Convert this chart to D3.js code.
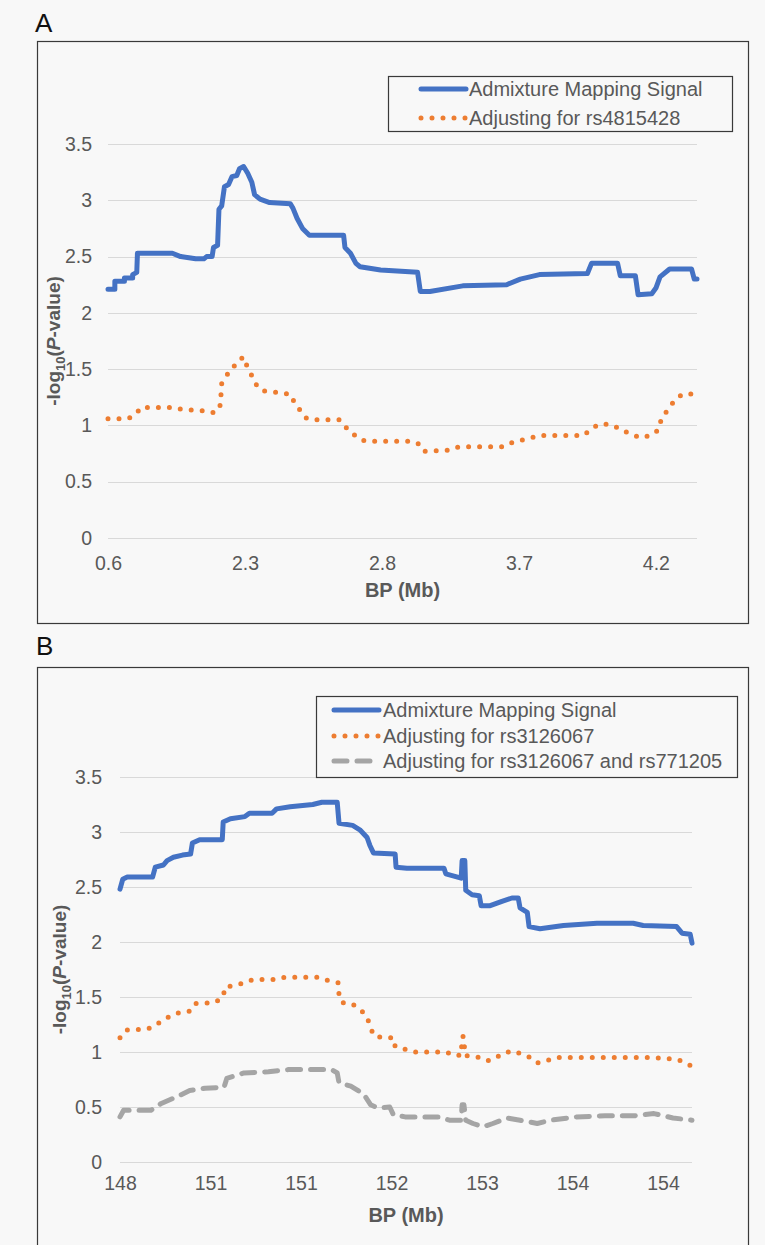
<!DOCTYPE html>
<html>
<head>
<meta charset="utf-8">
<script src="https://cdn.jsdelivr.net/npm/d3@7"></script>
<style>
  html, body { margin: 0; padding: 0; background: #f8f8f8; }
  svg { display: block; }
  text { font-family: "Liberation Sans", Arial, Helvetica, sans-serif; }
</style>
</head>
<body>
<svg id="chart" width="765" height="1245"></svg>
<script>
// ---------------- DATA ----------------
const yTickValues = [0, 0.5, 1, 1.5, 2, 2.5, 3, 3.5];

// Panel A — category axis labels (BP, Mb) and extent in label-index units
const xLabelsA = ["0.6", "2.3", "2.8", "3.7", "4.2"];
const xSpanA = 4.3;
const legendA = ["Admixture Mapping Signal", "Adjusting for rs4815428"];

// [position along category axis, -log10(P)]
const signalA = [
  [0,2.21],[0.05,2.21],[0.05,2.28],[0.12,2.28],[0.12,2.31],[0.18,2.31],[0.18,2.34],[0.21,2.36],
  [0.215,2.53],[0.47,2.53],[0.53,2.50],[0.64,2.48],[0.70,2.48],[0.72,2.50],[0.76,2.50],[0.77,2.58],
  [0.80,2.60],[0.81,2.92],[0.83,2.95],[0.85,3.12],[0.88,3.14],[0.905,3.21],[0.94,3.22],[0.96,3.28],
  [0.99,3.30],[1.02,3.24],[1.05,3.16],[1.07,3.05],[1.11,3.01],[1.18,2.98],[1.33,2.97],[1.35,2.93],
  [1.38,2.84],[1.42,2.75],[1.47,2.69],[1.72,2.69],[1.73,2.58],[1.77,2.53],[1.81,2.44],[1.84,2.41],
  [1.99,2.38],[2.26,2.36],[2.28,2.19],[2.35,2.19],[2.59,2.24],[2.91,2.25],[3.01,2.30],[3.15,2.34],
  [3.50,2.35],[3.53,2.44],[3.72,2.44],[3.74,2.33],[3.85,2.33],[3.87,2.16],[3.97,2.17],[4.00,2.22],
  [4.03,2.32],[4.10,2.39],[4.26,2.39],[4.28,2.30],[4.30,2.30]
];
const adjustedA = [
  [0,1.06],[0.15,1.06],[0.21,1.11],[0.24,1.16],[0.46,1.16],[0.55,1.14],[0.71,1.13],[0.78,1.11],
  [0.82,1.18],[0.83,1.37],[0.87,1.45],[0.90,1.51],[0.95,1.55],[0.985,1.61],[1.01,1.54],[1.04,1.47],
  [1.07,1.38],[1.12,1.31],[1.19,1.30],[1.27,1.29],[1.34,1.27],[1.36,1.20],[1.40,1.14],[1.44,1.07],
  [1.49,1.05],[1.69,1.05],[1.72,1.00],[1.77,0.95],[1.82,0.89],[1.88,0.86],[2.22,0.86],[2.28,0.83],
  [2.31,0.77],[2.49,0.78],[2.56,0.81],[2.88,0.81],[2.93,0.84],[3.02,0.87],[3.09,0.89],[3.15,0.91],
  [3.47,0.91],[3.52,0.96],[3.58,1.01],[3.66,1.01],[3.74,0.97],[3.80,0.93],[3.89,0.89],[3.96,0.91],
  [4.02,0.96],[4.04,1.06],[4.07,1.11],[4.11,1.18],[4.15,1.24],[4.20,1.28],[4.30,1.28]
];

// Panel B
const xLabelsB = ["148", "151", "151", "152", "153", "154", "154"];
const xSpanB = 6.32;
const legendB = ["Admixture Mapping Signal", "Adjusting for rs3126067", "Adjusting for rs3126067 and rs771205"];

const signalB = [
  [0,2.48],[0.03,2.57],[0.08,2.59],[0.36,2.59],[0.39,2.68],[0.48,2.70],[0.52,2.74],[0.59,2.77],
  [0.69,2.79],[0.78,2.80],[0.80,2.90],[0.88,2.93],[1.13,2.93],[1.14,3.09],[1.22,3.12],[1.38,3.14],
  [1.43,3.17],[1.68,3.17],[1.73,3.21],[1.88,3.23],[2.13,3.25],[2.23,3.27],[2.40,3.27],[2.42,3.08],
  [2.57,3.06],[2.65,3.02],[2.73,2.95],[2.76,2.88],[2.80,2.81],[3.04,2.80],[3.05,2.68],[3.17,2.67],
  [3.58,2.67],[3.60,2.62],[3.73,2.59],[3.77,2.58],[3.78,2.74],[3.81,2.74],[3.82,2.47],[3.89,2.43],
  [3.97,2.42],[3.99,2.33],[4.09,2.33],[4.22,2.37],[4.33,2.40],[4.40,2.40],[4.42,2.31],[4.50,2.27],
  [4.52,2.14],[4.64,2.12],[4.90,2.15],[5.27,2.17],[5.67,2.17],[5.78,2.15],[6.15,2.14],[6.21,2.08],
  [6.30,2.07],[6.32,1.99]
];
const adjustedB1 = [
  [0,1.13],[0.07,1.20],[0.31,1.21],[0.40,1.25],[0.48,1.29],[0.56,1.33],[0.66,1.36],[0.77,1.37],
  [0.83,1.44],[1.05,1.45],[1.14,1.50],[1.16,1.59],[1.29,1.61],[1.38,1.63],[1.47,1.66],[1.71,1.66],
  [1.82,1.68],[2.19,1.68],[2.30,1.65],[2.41,1.63],[2.42,1.52],[2.45,1.45],[2.56,1.44],[2.65,1.39],
  [2.72,1.33],[2.76,1.25],[2.80,1.15],[2.90,1.13],[3.02,1.13],[3.04,1.05],[3.13,1.03],[3.24,1.00],
  [3.61,1.00],[3.68,0.97],[3.77,0.97],[3.78,1.14],[3.80,1.14],[3.81,0.97],[3.97,0.95],[4.06,0.92],
  [4.14,0.94],[4.23,0.99],[4.34,1.01],[4.44,0.98],[4.53,0.95],[4.61,0.90],[4.71,0.92],[4.82,0.95],
  [5.90,0.95],[6.17,0.93],[6.32,0.87]
];
const adjustedB2 = [
  [0,0.41],[0.04,0.47],[0.34,0.47],[0.45,0.53],[0.62,0.59],[0.77,0.65],[0.94,0.67],[1.15,0.68],
  [1.18,0.76],[1.37,0.81],[1.64,0.82],[1.86,0.84],[2.34,0.84],[2.40,0.81],[2.42,0.72],[2.55,0.69],
  [2.69,0.62],[2.77,0.52],[2.85,0.49],[2.98,0.50],[3.02,0.43],[3.15,0.41],[3.52,0.41],[3.64,0.38],
  [3.77,0.38],[3.78,0.52],[3.80,0.52],[3.82,0.38],[3.90,0.35],[4.01,0.32],[4.12,0.35],[4.28,0.40],
  [4.42,0.38],[4.61,0.35],[4.76,0.38],[5.04,0.41],[5.36,0.42],[5.68,0.42],[5.90,0.44],[6.11,0.40],
  [6.32,0.38]
];

// ---------------- STYLES ----------------
const COL_BLUE = "#4472C4", COL_ORANGE = "#ED7D31", COL_GRAY = "#A5A5A5";
const TXT = "#595959";
const styles = {
  signal:   { stroke: COL_BLUE,   width: 5,   dash: null,    cap: "round" },
  dotted:   { stroke: COL_ORANGE, width: 5,   dash: "0,11",  cap: "round" },
  dashed:   { stroke: COL_GRAY,   width: 5,   dash: "13,10", cap: "round" }
};

const svg = d3.select("#chart");

function drawPanel(cfg) {
  const g = svg.append("g");
  g.append("rect")
    .attr("x", cfg.frame[0] + 0.5).attr("y", cfg.frame[1] + 0.5)
    .attr("width", cfg.frame[2]).attr("height", cfg.frame[3])
    .attr("fill", "#f8f8f8").attr("stroke", "#3a3a3a").attr("stroke-width", 1.2);

  g.append("text").attr("x", cfg.letterPos[0]).attr("y", cfg.letterPos[1])
    .attr("font-size", 26).attr("fill", "#111").text(cfg.letter);

  const x = d3.scaleLinear().domain([0, cfg.xSpan]).range([cfg.x0, cfg.x1]);
  const y = d3.scaleLinear().domain([0, 3.5]).range([cfg.yBottom, cfg.yTop]);

  g.append("g").selectAll("line").data(yTickValues).join("line")
    .attr("x1", cfg.x0).attr("x2", cfg.x1)
    .attr("y1", d => Math.round(y(d)) + 0.5).attr("y2", d => Math.round(y(d)) + 0.5)
    .attr("stroke", "#d9d9d9").attr("stroke-width", 1.2);

  const yAxis = d3.axisLeft(y).tickValues(yTickValues).tickSize(0).tickPadding(0)
    .tickFormat(d3.format("~g"));
  const ya = g.append("g").attr("transform", `translate(${cfg.yLabelRight},0)`).call(yAxis);
  ya.select(".domain").remove();
  ya.selectAll("text").attr("font-size", 19.5).attr("fill", TXT)
    .attr("font-family", "Liberation Sans, Arial, sans-serif");

  const xAxis = d3.axisBottom(x).tickValues(d3.range(cfg.xLabels.length))
    .tickFormat(i => cfg.xLabels[i]).tickSize(0).tickPadding(0);
  const xa = g.append("g").attr("transform", `translate(0,${cfg.xLabelTop})`).call(xAxis);
  xa.select(".domain").remove();
  xa.selectAll("text").attr("font-size", 19.5).attr("fill", TXT)
    .attr("font-family", "Liberation Sans, Arial, sans-serif");

  g.append("text").attr("x", (cfg.x0 + cfg.x1) / 2).attr("y", cfg.xTitleY)
    .attr("text-anchor", "middle").attr("font-size", 20).attr("font-weight", "bold")
    .attr("fill", TXT).text("BP (Mb)");

  const yt = g.append("text")
    .attr("transform", `translate(${cfg.yTitleX},${(cfg.yTop + cfg.yBottom) / 2}) rotate(-90)`)
    .attr("text-anchor", "middle").attr("font-size", 19).attr("font-weight", "bold")
    .attr("fill", TXT);
  yt.append("tspan").text("-log");
  yt.append("tspan").attr("font-size", 13).attr("dy", 5).text("10");
  yt.append("tspan").attr("dy", -5).text("(");
  yt.append("tspan").attr("font-style", "italic").text("P");
  yt.append("tspan").text("-value)");

  const line = d3.line().x(d => x(d[0])).y(d => y(d[1]));
  cfg.series.forEach(s => {
    const st = styles[s.style];
    g.append("path").datum(s.data).attr("d", line)
      .attr("fill", "none").attr("stroke", st.stroke).attr("stroke-width", st.width)
      .attr("stroke-linecap", st.cap).attr("stroke-linejoin", "round")
      .attr("stroke-dasharray", st.dash);
  });

  const L = cfg.legend;
  g.append("rect").attr("x", L.box[0] + 0.5).attr("y", L.box[1] + 0.5)
    .attr("width", L.box[2]).attr("height", L.box[3])
    .attr("fill", "#f8f8f8").attr("stroke", "#3a3a3a").attr("stroke-width", 1.2);
  cfg.series.forEach((s, i) => {
    const st = styles[s.style];
    const yy = L.rowY[i];
    g.append("line").attr("x1", L.sample[0]).attr("x2", L.sample[1])
      .attr("y1", yy).attr("y2", yy)
      .attr("stroke", st.stroke).attr("stroke-width", st.width)
      .attr("stroke-linecap", st.cap).attr("stroke-dasharray", st.dash);
    g.append("text").attr("x", L.textX).attr("y", yy + 7)
      .attr("font-size", 20).attr("fill", TXT).text(s.label);
  });
}

drawPanel({
  letter: "A", letterPos: [35, 32],
  frame: [37, 41, 711, 582],
  x0: 108, x1: 697, yTop: 144, yBottom: 538,
  xSpan: xSpanA, xLabels: xLabelsA,
  yLabelRight: 92, xLabelTop: 556, xTitleY: 597, yTitleX: 60,
  series: [
    { data: signalA, style: "signal", label: legendA[0] },
    { data: adjustedA, style: "dotted", label: legendA[1] }
  ],
  legend: { box: [388, 76, 344, 55], rowY: [89, 118], sample: [421, 466], textX: 469 }
});

drawPanel({
  letter: "B", letterPos: [36, 655],
  frame: [37, 667, 711, 620],
  x0: 120, x1: 692, yTop: 777, yBottom: 1162,
  xSpan: xSpanB, xLabels: xLabelsB,
  yLabelRight: 102, xLabelTop: 1176, xTitleY: 1222, yTitleX: 66,
  series: [
    { data: signalB, style: "signal", label: legendB[0] },
    { data: adjustedB1, style: "dotted", label: legendB[1] },
    { data: adjustedB2, style: "dashed", label: legendB[2] }
  ],
  legend: { box: [316, 696, 421, 81], rowY: [710, 736, 761], sample: [334, 379], textX: 383 }
});
</script>
</body>
</html>
